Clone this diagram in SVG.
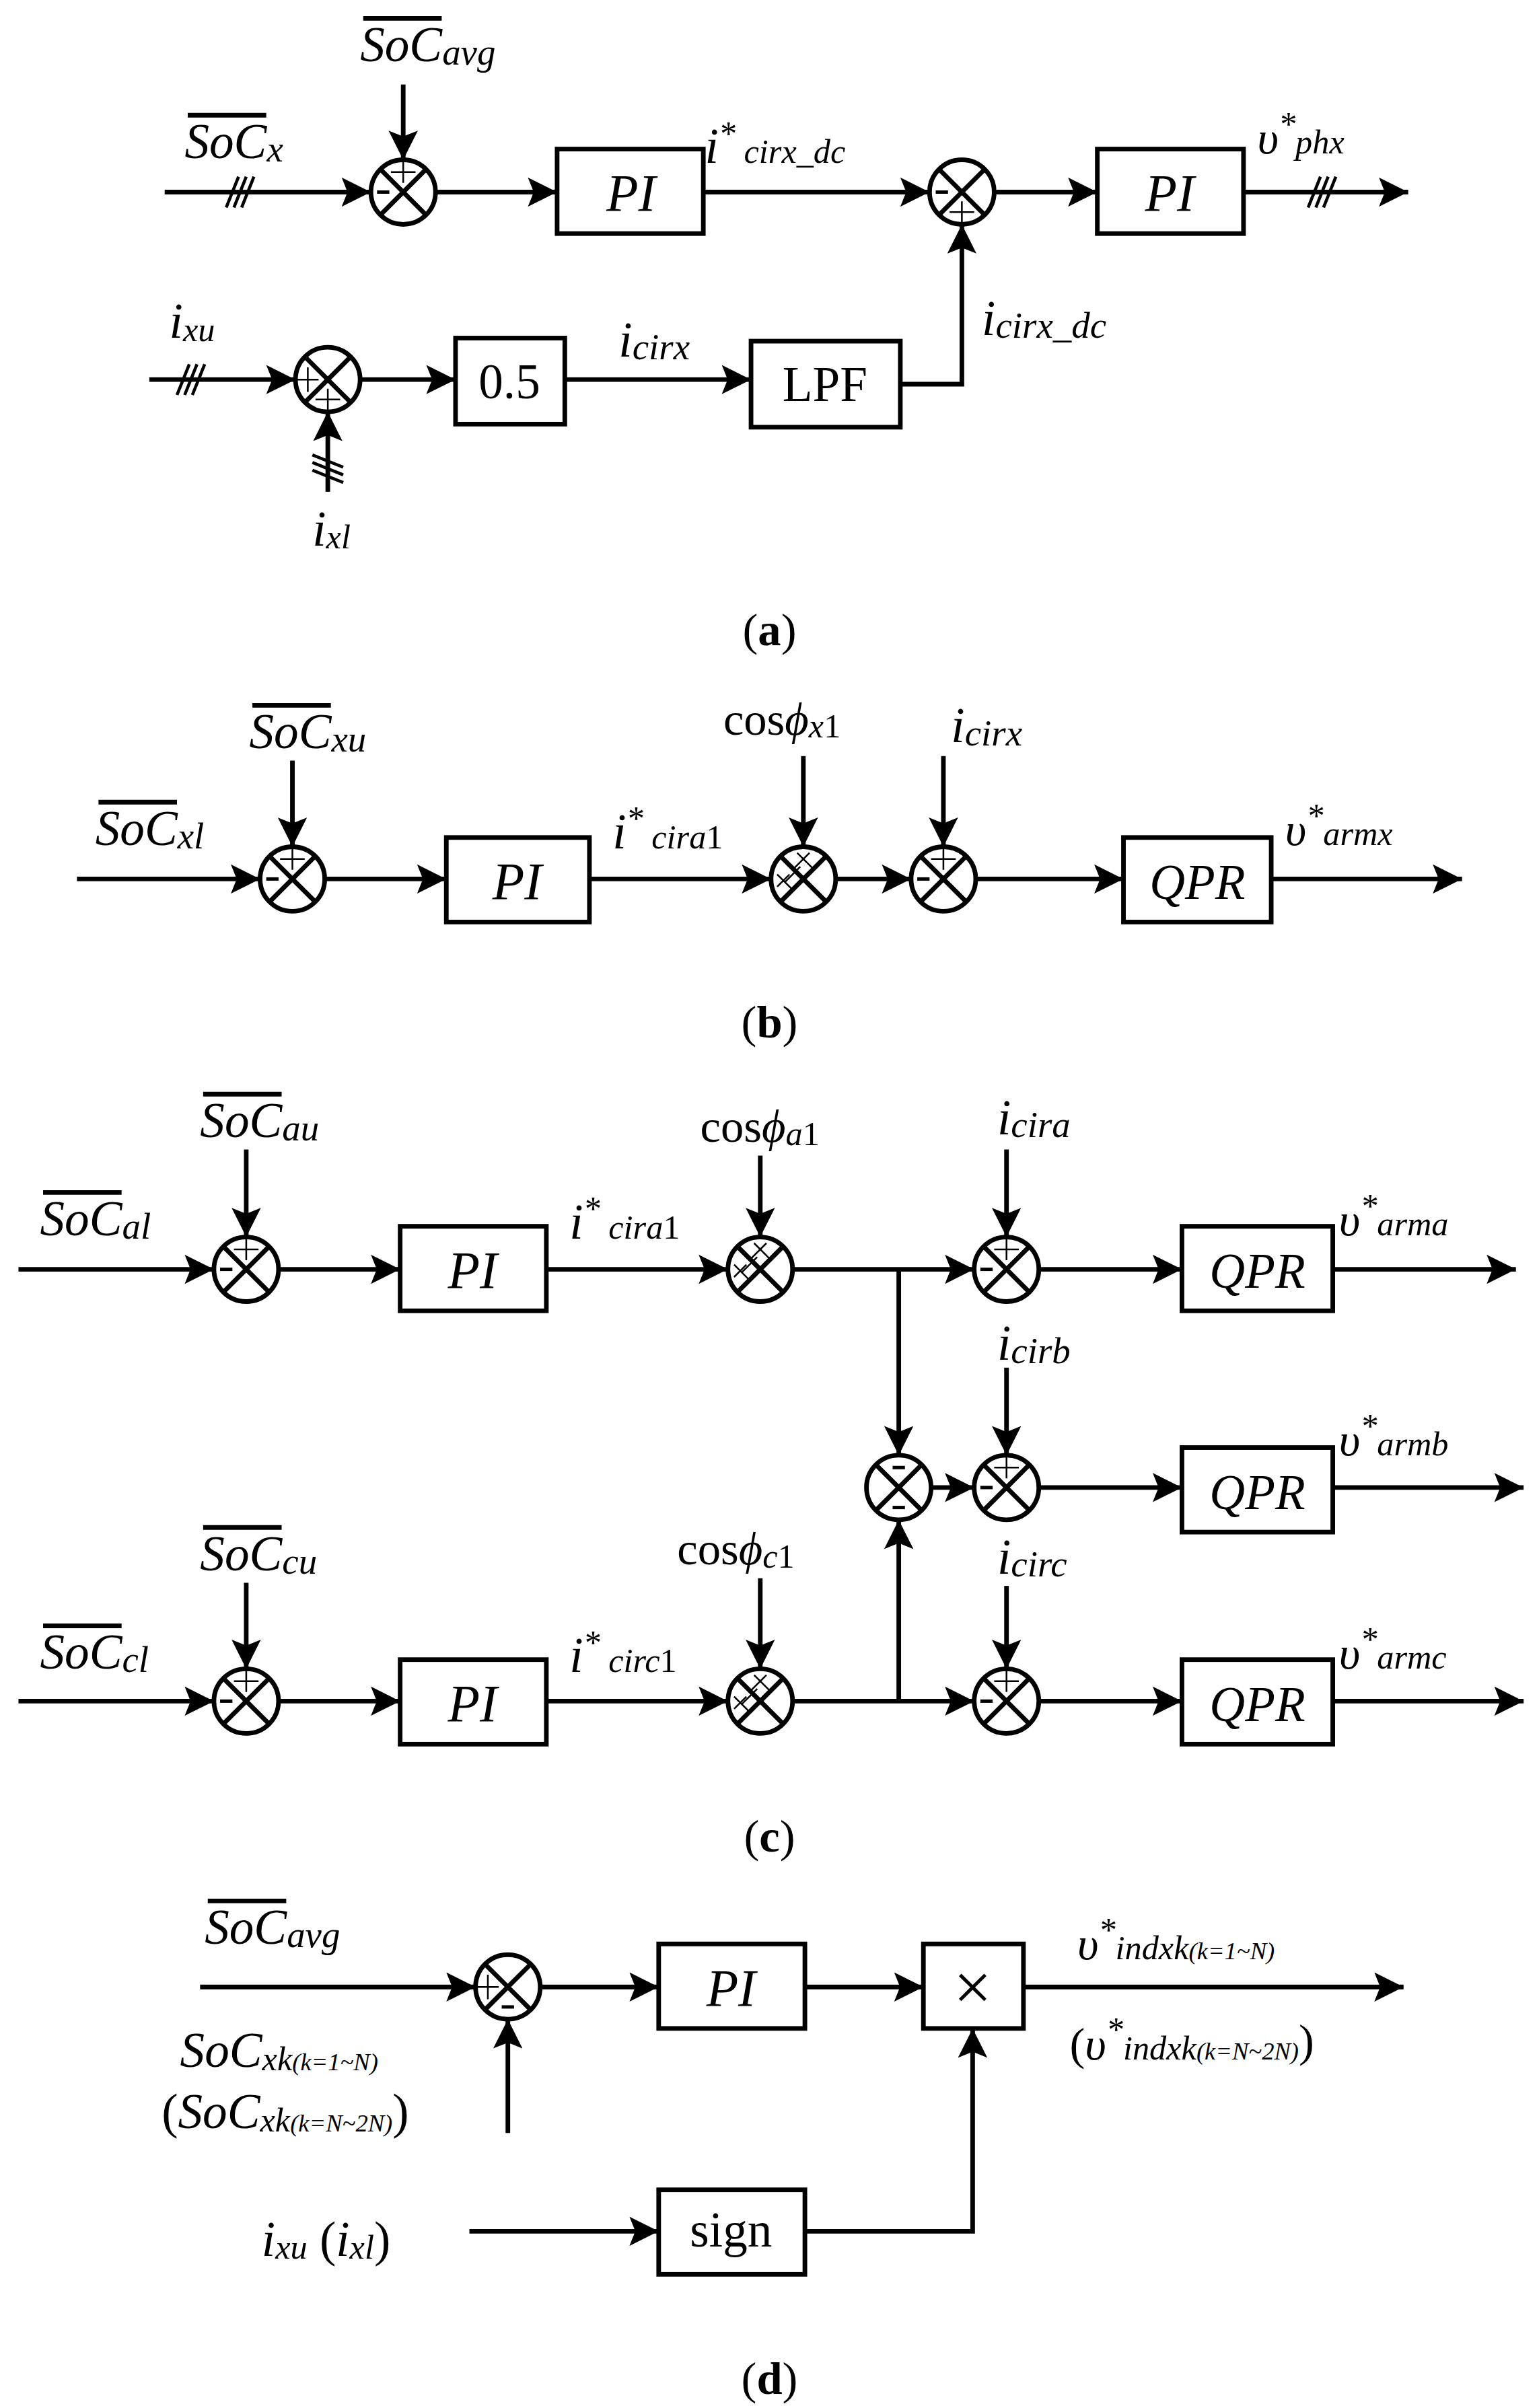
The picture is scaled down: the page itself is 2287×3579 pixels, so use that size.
<svg xmlns="http://www.w3.org/2000/svg" width="2287" height="3579" viewBox="0 0 2287 3579">
<style>
.w{stroke:#000;stroke-width:3;fill:none}
.t{stroke:#000;stroke-width:1.2;fill:none}
.box{stroke:#000;stroke-width:3;fill:#fff}
text{font-family:"Liberation Serif","Times New Roman",serif;fill:#000}
.i{font-style:italic}
.b{font-weight:bold}
</style>
<defs>
<marker id="ah" viewBox="0 0 10 10" refX="10" refY="5" markerWidth="22" markerHeight="19" markerUnits="userSpaceOnUse" orient="auto"><path d="M0,0 L10,5 L0,10 L2,5 z" fill="#000"/></marker>
<g id="sum"><circle r="21" fill="#fff" stroke="#000" stroke-width="3"/><path d="M-14.8,-14.8 L14.8,14.8 M14.8,-14.8 L-14.8,14.8" stroke="#000" stroke-width="3"/></g>
<g id="mul"><use href="#sum"/><path d="M-4,-17 L6,-7 M4,-17 L-6,-7 M-17,-3 L-7,7 M-17,5 L-9,-3 M-12,-12 L-2,-2 M-12,2 L-2,-8" stroke="#000" stroke-width="1.1"/></g>
<path id="mL" d="M-17,0 L-9,0" stroke="#000" stroke-width="2.2"/>
<path id="pT" d="M-8,-13 L8,-13 M0,-20 L0,-6" stroke="#000" stroke-width="1.1"/>
<path id="pB" d="M-8,13 L8,13 M0,20 L0,6" stroke="#000" stroke-width="1.1"/>
<path id="pL" d="M-13,-8 L-13,8 M-20,0 L-6,0" stroke="#000" stroke-width="1.1"/>
<path id="mT" d="M-4,-13 L4,-13" stroke="#000" stroke-width="2.2"/>
<path id="mB" d="M-4,13 L4,13" stroke="#000" stroke-width="2.2"/>
<path id="tri" d="M-8,10 L0,-10 M-3,10 L5,-10 M2,10 L10,-10" stroke="#000" stroke-width="2"/>
<path id="triV" d="M-10,-8 L10,0 M-10,-3 L10,5 M-10,2 L10,10" stroke="#000" stroke-width="2"/>
</defs>
<g transform="scale(2.287,2.284)">
<!-- ===== (a) ===== -->
<g id="a-connectors" class="w">
<path d="M107,125 L241,125" marker-end="url(#ah)"/>
<path d="M262,55 L262,104" marker-end="url(#ah)"/>
<path d="M283,125 L362,125" marker-end="url(#ah)"/>
<path d="M457,125 L604,125" marker-end="url(#ah)"/>
<path d="M646,125 L713,125" marker-end="url(#ah)"/>
<path d="M808,125 L915,125" marker-end="url(#ah)"/>
<path d="M97,247 L192,247" marker-end="url(#ah)"/>
<path d="M213,320 L213,268" marker-end="url(#ah)"/>
<path d="M234,247 L296,247" marker-end="url(#ah)"/>
<path d="M367,247 L488,247" marker-end="url(#ah)"/>
<path d="M585,250 L625,250 L625,146" marker-end="url(#ah)"/>
</g>
<use href="#tri" x="155" y="125"/><use href="#tri" x="858" y="125"/><use href="#tri" x="123" y="247"/><use href="#triV" x="213" y="304"/>
<g id="a-sum1"><use href="#sum" x="262" y="125"/><use href="#mL" x="262" y="125"/><use href="#pT" x="262" y="125"/></g>
<g id="a-pi1"><rect class="box" x="362" y="97" width="95" height="55"/><text class="i" x="410" y="137" font-size="34" text-anchor="middle">PI</text></g>
<g id="a-sum2"><use href="#sum" x="625" y="125"/><use href="#mL" x="625" y="125"/><use href="#pB" x="625" y="125"/></g>
<g id="a-pi2"><rect class="box" x="713" y="97" width="95" height="55"/><text class="i" x="760" y="137" font-size="34" text-anchor="middle">PI</text></g>
<g id="a-sum3"><use href="#sum" x="213" y="247"/><use href="#pL" x="213" y="247"/><use href="#pB" x="213" y="247"/></g>
<g id="a-half"><rect class="box" x="296" y="220" width="71" height="56"/><text x="331" y="259" font-size="32" text-anchor="middle">0.5</text></g>
<g id="a-lpf"><rect class="box" x="488" y="222" width="97" height="56"/><text x="536" y="261" font-size="32" text-anchor="middle">LPF</text></g>
<g id="a-labels">
<text class="i" x="120" y="103" font-size="32">SoC<tspan font-size="24" dy="2">x</tspan></text><path class="w" d="M122,75 L173,75"/>
<text class="i" x="234" y="40" font-size="32">SoC<tspan font-size="24" dy="2">avg</tspan></text><path class="w" d="M236,12 L287,12"/>
<text class="i" x="458" y="106" font-size="32">i<tspan font-size="22" dy="-12">*</tspan><tspan font-size="22" dy="12"> cirx_dc</tspan></text>
<text class="i" x="817" y="100" font-size="30">υ<tspan font-size="22" dy="-12">*</tspan><tspan font-size="22" dy="12">phx</tspan></text>
<text class="i" x="110" y="220" font-size="32">i<tspan font-size="22" dy="2">xu</tspan></text>
<text class="i" x="402" y="232" font-size="32">i<tspan font-size="24" dy="2">cirx</tspan></text>
<text class="i" x="638" y="218" font-size="32">i<tspan font-size="24" dy="2">cirx_dc</tspan></text>
<text class="i" x="203" y="355" font-size="32">i<tspan font-size="22" dy="2">xl</tspan></text>
<text x="500" y="420" font-size="30" text-anchor="middle">(<tspan class="b">a</tspan>)</text>
</g>
<!-- ===== (b) ===== -->
<g id="b-connectors" class="w">
<path d="M50,572 L169,572" marker-end="url(#ah)"/>
<path d="M190,495 L190,551" marker-end="url(#ah)"/>
<path d="M211,572 L290,572" marker-end="url(#ah)"/>
<path d="M383,572 L501,572" marker-end="url(#ah)"/>
<path d="M522,492 L522,551" marker-end="url(#ah)"/>
<path d="M543,572 L592,572" marker-end="url(#ah)"/>
<path d="M613,492 L613,551" marker-end="url(#ah)"/>
<path d="M634,572 L730,572" marker-end="url(#ah)"/>
<path d="M826,572 L950,572" marker-end="url(#ah)"/>
</g>
<g id="b-sum1"><use href="#sum" x="190" y="572"/><use href="#mL" x="190" y="572"/><use href="#pT" x="190" y="572"/></g>
<g id="b-pi"><rect class="box" x="290" y="545" width="93" height="55"/><text class="i" x="336" y="585" font-size="34" text-anchor="middle">PI</text></g>
<g id="b-mul"><use href="#mul" x="522" y="572"/></g>
<g id="b-sum2"><use href="#sum" x="613" y="572"/><use href="#mL" x="613" y="572"/><use href="#pT" x="613" y="572"/></g>
<g id="b-qpr"><rect class="box" x="730" y="545" width="96" height="55"/><text class="i" x="778" y="585" font-size="32" text-anchor="middle">QPR</text></g>
<g id="b-labels">
<text class="i" x="62" y="550" font-size="32">SoC<tspan font-size="24" dy="2">xl</tspan></text><path class="w" d="M64,522 L115,522"/>
<text class="i" x="162" y="487" font-size="32">SoC<tspan font-size="24" dy="2">xu</tspan></text><path class="w" d="M164,459 L215,459"/>
<text class="i" x="398" y="552" font-size="32">i<tspan font-size="22" dy="-12">*</tspan><tspan font-size="22" dy="12"> cira</tspan><tspan font-style="normal" font-size="22">1</tspan></text>
<text x="470" y="478" font-size="30">cos<tspan class="i">ϕ</tspan><tspan class="i" font-size="22" dy="2">x</tspan><tspan font-size="22">1</tspan></text>
<text class="i" x="618" y="483" font-size="32">i<tspan font-size="24" dy="2">cirx</tspan></text>
<text class="i" x="835" y="550" font-size="30">υ<tspan font-size="22" dy="-12">*</tspan><tspan font-size="22" dy="12">armx</tspan></text>
<text x="500" y="675" font-size="30" text-anchor="middle">(<tspan class="b">b</tspan>)</text>
</g>
<!-- ===== (c) ===== -->
<g id="c-connectors" class="w">
<path d="M12,826 L139,826" marker-end="url(#ah)"/>
<path d="M160,748 L160,805" marker-end="url(#ah)"/>
<path d="M181,826 L260,826" marker-end="url(#ah)"/>
<path d="M355,826 L473,826" marker-end="url(#ah)"/>
<path d="M494,752 L494,805" marker-end="url(#ah)"/>
<path d="M515,826 L633,826" marker-end="url(#ah)"/>
<path d="M584,826 L584,947" marker-end="url(#ah)"/>
<path d="M654,748 L654,805" marker-end="url(#ah)"/>
<path d="M675,826 L768,826" marker-end="url(#ah)"/>
<path d="M866,826 L985,826" marker-end="url(#ah)"/>
<path d="M605,968 L633,968" marker-end="url(#ah)"/>
<path d="M654,890 L654,947" marker-end="url(#ah)"/>
<path d="M675,968 L768,968" marker-end="url(#ah)"/>
<path d="M866,968 L990,968" marker-end="url(#ah)"/>
<path d="M12,1107 L139,1107" marker-end="url(#ah)"/>
<path d="M160,1030 L160,1086" marker-end="url(#ah)"/>
<path d="M181,1107 L260,1107" marker-end="url(#ah)"/>
<path d="M355,1107 L473,1107" marker-end="url(#ah)"/>
<path d="M494,1027 L494,1086" marker-end="url(#ah)"/>
<path d="M515,1107 L633,1107" marker-end="url(#ah)"/>
<path d="M584,1107 L584,989" marker-end="url(#ah)"/>
<path d="M654,1032 L654,1086" marker-end="url(#ah)"/>
<path d="M675,1107 L768,1107" marker-end="url(#ah)"/>
<path d="M866,1107 L990,1107" marker-end="url(#ah)"/>
</g>
<g id="c-sum-a1"><use href="#sum" x="160" y="826"/><use href="#mL" x="160" y="826"/><use href="#pT" x="160" y="826"/></g>
<g id="c-pi-a"><rect class="box" x="260" y="798" width="95" height="55"/><text class="i" x="307" y="838" font-size="34" text-anchor="middle">PI</text></g>
<g id="c-mul-a"><use href="#mul" x="494" y="826"/></g>
<g id="c-sum-a2"><use href="#sum" x="654" y="826"/><use href="#mL" x="654" y="826"/><use href="#pT" x="654" y="826"/></g>
<g id="c-qpr-a"><rect class="box" x="768" y="798" width="98" height="55"/><text class="i" x="817" y="838" font-size="32" text-anchor="middle">QPR</text></g>
<g id="c-sum-mid"><use href="#sum" x="584" y="968"/><use href="#mT" x="584" y="968"/><use href="#mB" x="584" y="968"/></g>
<g id="c-sum-b"><use href="#sum" x="654" y="968"/><use href="#mL" x="654" y="968"/><use href="#pT" x="654" y="968"/></g>
<g id="c-qpr-b"><rect class="box" x="768" y="942" width="98" height="55"/><text class="i" x="817" y="982" font-size="32" text-anchor="middle">QPR</text></g>
<g id="c-sum-c1"><use href="#sum" x="160" y="1107"/><use href="#mL" x="160" y="1107"/><use href="#pT" x="160" y="1107"/></g>
<g id="c-pi-c"><rect class="box" x="260" y="1080" width="95" height="55"/><text class="i" x="307" y="1120" font-size="34" text-anchor="middle">PI</text></g>
<g id="c-mul-c"><use href="#mul" x="494" y="1107"/></g>
<g id="c-sum-c2"><use href="#sum" x="654" y="1107"/><use href="#mL" x="654" y="1107"/><use href="#pT" x="654" y="1107"/></g>
<g id="c-qpr-c"><rect class="box" x="768" y="1080" width="98" height="55"/><text class="i" x="817" y="1120" font-size="32" text-anchor="middle">QPR</text></g>
<g id="c-labels">
<text class="i" x="26" y="804" font-size="32">SoC<tspan font-size="24" dy="2">al</tspan></text><path class="w" d="M28,776 L79,776"/>
<text class="i" x="130" y="740" font-size="32">SoC<tspan font-size="24" dy="2">au</tspan></text><path class="w" d="M132,712 L183,712"/>
<text class="i" x="370" y="806" font-size="32">i<tspan font-size="22" dy="-12">*</tspan><tspan font-size="22" dy="12"> cira</tspan><tspan font-style="normal" font-size="22">1</tspan></text>
<text x="455" y="743" font-size="30">cos<tspan class="i">ϕ</tspan><tspan class="i" font-size="22" dy="2">a</tspan><tspan font-size="22">1</tspan></text>
<text class="i" x="648" y="738" font-size="32">i<tspan font-size="24" dy="2">cira</tspan></text>
<text class="i" x="870" y="804" font-size="30">υ<tspan font-size="22" dy="-12">*</tspan><tspan font-size="22" dy="12">arma</tspan></text>
<text class="i" x="648" y="885" font-size="32">i<tspan font-size="24" dy="2">cirb</tspan></text>
<text class="i" x="870" y="947" font-size="30">υ<tspan font-size="22" dy="-12">*</tspan><tspan font-size="22" dy="12">armb</tspan></text>
<text class="i" x="26" y="1086" font-size="32">SoC<tspan font-size="24" dy="2">cl</tspan></text><path class="w" d="M28,1058 L79,1058"/>
<text class="i" x="130" y="1022" font-size="32">SoC<tspan font-size="24" dy="2">cu</tspan></text><path class="w" d="M132,994 L183,994"/>
<text class="i" x="370" y="1088" font-size="32">i<tspan font-size="22" dy="-12">*</tspan><tspan font-size="22" dy="12"> circ</tspan><tspan font-style="normal" font-size="22">1</tspan></text>
<text x="440" y="1018" font-size="30">cos<tspan class="i">ϕ</tspan><tspan class="i" font-size="22" dy="2">c</tspan><tspan font-size="22">1</tspan></text>
<text class="i" x="648" y="1024" font-size="32">i<tspan font-size="24" dy="2">circ</tspan></text>
<text class="i" x="870" y="1086" font-size="30">υ<tspan font-size="22" dy="-12">*</tspan><tspan font-size="22" dy="12">armc</tspan></text>
<text x="500" y="1205" font-size="30" text-anchor="middle">(<tspan class="b">c</tspan>)</text>
</g>
<!-- ===== (d) ===== -->
<g id="d-connectors" class="w">
<path d="M130,1293 L309,1293" marker-end="url(#ah)"/>
<path d="M330,1388 L330,1314" marker-end="url(#ah)"/>
<path d="M351,1293 L428,1293" marker-end="url(#ah)"/>
<path d="M523,1293 L600,1293" marker-end="url(#ah)"/>
<path d="M665,1293 L912,1293" marker-end="url(#ah)"/>
<path d="M305,1452 L428,1452" marker-end="url(#ah)"/>
<path d="M523,1452 L632,1452 L632,1320" marker-end="url(#ah)"/>
</g>
<g id="d-sum"><use href="#sum" x="330" y="1293"/><use href="#pL" x="330" y="1293"/><use href="#mB" x="330" y="1293"/></g>
<g id="d-pi"><rect class="box" x="428" y="1265" width="95" height="55"/><text class="i" x="475" y="1305" font-size="34" text-anchor="middle">PI</text></g>
<g id="d-mul"><rect class="box" x="600" y="1265" width="65" height="55"/><text x="632" y="1308" font-size="44" text-anchor="middle">×</text></g>
<g id="d-sign"><rect class="box" x="428" y="1425" width="95" height="55"/><text x="475" y="1462" font-size="32" text-anchor="middle">sign</text></g>
<g id="d-labels">
<text class="i" x="133" y="1265" font-size="32">SoC<tspan font-size="24" dy="2">avg</tspan></text><path class="w" d="M135,1237 L186,1237"/>
<text class="i" x="117" y="1345" font-size="32">SoC<tspan font-size="22" dy="2">xk</tspan><tspan font-size="16">(k=1~N)</tspan></text>
<text class="i" x="105" y="1385" font-size="32"><tspan font-style="normal">(</tspan>SoC<tspan font-size="22" dy="2">xk</tspan><tspan font-size="16">(k=N~2N)</tspan><tspan font-style="normal" font-size="32" dy="-2">)</tspan></text>
<text class="i" x="700" y="1275" font-size="30">υ<tspan font-size="22" dy="-12">*</tspan><tspan font-size="22" dy="12">indxk</tspan><tspan font-size="16">(k=1~N)</tspan></text>
<text class="i" x="695" y="1340" font-size="30"><tspan font-style="normal">(</tspan>υ<tspan font-size="22" dy="-12">*</tspan><tspan font-size="22" dy="12">indxk</tspan><tspan font-size="16">(k=N~2N)</tspan><tspan font-style="normal" font-size="30" dy="-2">)</tspan></text>
<text class="i" x="170" y="1468" font-size="32">i<tspan font-size="22" dy="2">xu</tspan><tspan dy="-2" font-style="normal"> (</tspan>i<tspan font-size="22" dy="2">xl</tspan><tspan dy="-2" font-style="normal">)</tspan></text>
<text x="500" y="1558" font-size="30" text-anchor="middle">(<tspan class="b">d</tspan>)</text>
</g>
</g>
</svg>
